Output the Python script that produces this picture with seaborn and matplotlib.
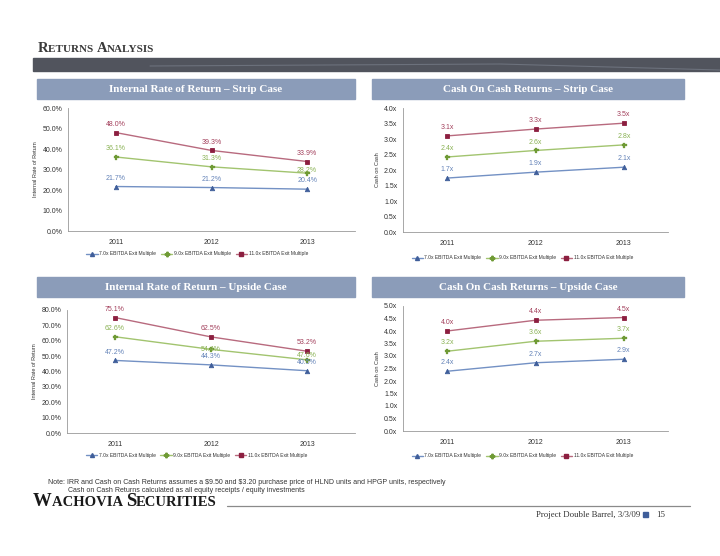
import matplotlib
matplotlib.use("Agg")
import matplotlib.pyplot as plt
import seaborn as sns
import pandas as pd
from matplotlib.offsetbox import TextArea, HPacker, AnnotationBbox
from matplotlib.patches import Rectangle
from matplotlib.lines import Line2D

sns.set_style("white")
plt.rcParams['font.family'] = ['Liberation Sans Narrow', 'Liberation Sans', 'DejaVu Sans']

# ---------------- data ----------------
years = ["2011", "2012", "2013"]
series_names = ["7.0x EBITDA Exit Multiple", "9.0x EBITDA Exit Multiple", "11.0x EBITDA Exit Multiple"]

irr_strip_7 = [21.7, 21.2, 20.4]
irr_strip_9 = [36.1, 31.3, 28.2]
irr_strip_11 = [48.0, 39.3, 33.9]

coc_strip_7 = [1.74, 1.93, 2.09]
coc_strip_9 = [2.42, 2.63, 2.81]
coc_strip_11 = [3.10, 3.32, 3.51]

irr_up_7 = [47.2, 44.3, 40.5]
irr_up_9 = [62.6, 54.4, 47.6]
irr_up_11 = [75.1, 62.5, 53.2]

coc_up_7 = [2.39, 2.73, 2.87]
coc_up_9 = [3.19, 3.59, 3.71]
coc_up_11 = [4.00, 4.43, 4.54]

panel_titles = ["Internal Rate of Return \u2013 Strip Case", "Cash On Cash Returns \u2013 Strip Case",
                "Internal Rate of Return \u2013 Upside Case", "Cash On Cash Returns \u2013 Upside Case"]

# ---------------- styles ----------------
W, H = 720, 556
line_cols = ["#7391C4", "#A2C46F", "#B86A7E"]
mark_cols = ["#3F5E9A", "#6F9A35", "#8C1F40"]
lab_cols = ["#6483B8", "#8AB254", "#A3405C"]
markers = ["^", "P", "s"]
msizes = [3.2, 3.6, 3.4]
TXT = "#333333"

def rect(x0, y0, x1, y1):
    return [x0 / W, 1 - y1 / H, (x1 - x0) / W, (y1 - y0) / H]

fig = plt.figure(figsize=(7.2, 5.56), dpi=100)
fig.patch.set_facecolor("white")

def smallcaps(words, big, small, xy, weight="normal", color="#3a3a3a"):
    parts = []
    for k, w in enumerate(words):
        parts.append(TextArea(w[0], textprops=dict(fontsize=big, family="Liberation Serif", weight=weight, color=color)))
        tail = w[1:].upper() + (" " if k < len(words) - 1 else "")
        parts.append(TextArea(tail, textprops=dict(fontsize=small, family="Liberation Serif", weight=weight, color=color)))
    box = HPacker(children=parts, align="baseline", pad=0, sep=0)
    ab = AnnotationBbox(box, xy, xycoords="figure pixels", box_alignment=(0, 0.5), frameon=False, pad=0)
    fig.add_artist(ab)

smallcaps(["Returns", "Analysis"], 10.5, 8, (38, H - 48), weight="bold")

bg = fig.add_axes([0, 0, 1, 1], zorder=-5)
bg.set_xlim(0, W); bg.set_ylim(H, 0); bg.axis("off")
bg.add_patch(Rectangle((33, 58), W - 33, 13, color="#51545D"))
bg.plot([150, 500, 720], [66, 64, 70], color="#6C717C", lw=0.8)

headers = [(37, 79, 355, 99), (372, 79, 684, 99), (37, 277, 355, 297), (372, 277, 684, 297)]
for (x0, y0, x1, y1), t in zip(headers, panel_titles):
    bg.add_patch(Rectangle((x0, y0), x1 - x0, y1 - y0, color="#8B9CB9"))
    bg.text((x0 + x1) / 2, (y0 + y1) / 2 + 0.5, t, ha="center", va="center", color="white",
            fontsize=8, family="Liberation Serif", weight="bold")

# footer
bg.text(48, 482, "Note: IRR and Cash on Cash Returns assumes a \\$9.50 and \\$3.20 purchase price of HLND units and HPGP units, respectively",
        fontsize=5.0, va="center", color=TXT, family="Liberation Sans")
bg.text(68, 490, "Cash on Cash Returns calculated as all equity receipts / equity investments",
        fontsize=5.0, va="center", color=TXT, family="Liberation Sans")
bg.plot([227, 690], [506, 506], color="#8a8a8a", lw=0.9)
bg.text(536, 515, "Project Double Barrel, 3/3/09", fontsize=6.3, family="Liberation Serif", va="center", color=TXT)
bg.add_patch(Rectangle((643, 512), 5, 5, color="#3F5E9A"))
bg.text(656, 515, "15", fontsize=6.3, family="Liberation Serif", va="center", color=TXT)
smallcaps(["Wachovia", "Securities"], 13.5, 10.5, (33, H - 501), weight="bold", color="#1a1a1a")

panels = [
    dict(r=rect(68, 108, 355, 231), data=[irr_strip_7, irr_strip_9, irr_strip_11], ymax=60, step=10,
         fmt="{:.1f}%", ylabel="Internal Rate of Return", leg_y=254, offs={(1, 2): 2}),
    dict(r=rect(403, 108, 668, 232), data=[coc_strip_7, coc_strip_9, coc_strip_11], ymax=4.0, step=0.5,
         fmt="{:.1f}x", ylabel="Cash on Cash", leg_y=258, offs={}),
    dict(r=rect(67, 310, 355, 433), data=[irr_up_7, irr_up_9, irr_up_11], ymax=80, step=10,
         fmt="{:.1f}%", ylabel="Internal Rate of Return", leg_y=455, offs={(1, 1): 0, (1, 2): 3}),
    dict(r=rect(403, 306, 668, 431), data=[coc_up_7, coc_up_9, coc_up_11], ymax=5.0, step=0.5,
         fmt="{:.1f}x", ylabel="Cash on Cash", leg_y=456, offs={}),
]

pos = list(range(len(years)))
for p in panels:
    ax = fig.add_axes(p["r"])
    for i, vals in enumerate(p["data"]):
        df = pd.DataFrame({"x": pos, "y": vals})
        sns.lineplot(data=df, x="x", y="y", ax=ax, color=line_cols[i], lw=1.0,
                     marker=markers[i], markersize=msizes[i], markerfacecolor=mark_cols[i],
                     markeredgecolor=mark_cols[i], markeredgewidth=0.6 if markers[i] != "P" else 0.2)
        for j, v in enumerate(vals):
            off = p["offs"].get((i, j), 6)
            lbl = p["fmt"].format(round(v + 1e-9, 1))
            ax.annotate(lbl, (j, v), xytext=(0, off), textcoords="offset points",
                        ha="center", va="center", fontsize=5.0, color=lab_cols[i])
    ax.set_xlim(-0.5, 2.5)
    ax.set_ylim(0, p["ymax"])
    n = int(round(p["ymax"] / p["step"]))
    yt = [k * p["step"] for k in range(n + 1)]
    ax.set_yticks(yt)
    ax.set_yticklabels([p["fmt"].format(t) for t in yt], fontsize=5.0, color=TXT)
    ax.set_xticks(pos)
    ax.set_xticklabels(years, fontsize=5.0, color=TXT)
    ax.set_xticks([-0.5, 0.5, 1.5, 2.5], minor=True)
    ax.tick_params(axis="x", which="major", length=0, pad=6)
    ax.tick_params(axis="x", which="minor", length=3, width=0.5, color="#999999", direction="out")
    ax.tick_params(axis="y", length=2.5, width=0.5, color="#999999", direction="out", pad=1.5)
    ax.set_xlabel("")
    ax.set_ylabel(p["ylabel"], fontsize=4.0, color=TXT, labelpad=3)
    for s in ["top", "right"]:
        ax.spines[s].set_visible(False)
    for s in ["left", "bottom"]:
        ax.spines[s].set_color("#999999")
        ax.spines[s].set_linewidth(0.6)
    ax.set_facecolor("none")
    handles = [Line2D([0], [0], color=line_cols[i], lw=1.0, marker=markers[i], markersize=msizes[i] * 0.9,
                      markerfacecolor=mark_cols[i], markeredgecolor=mark_cols[i]) for i in range(3)]
    x0, y0, w, h = p["r"]
    cx = x0 + w * 0.45
    fig.legend(handles, series_names, loc="center", bbox_to_anchor=(cx, 1 - p["leg_y"] / H),
               ncol=3, frameon=False, fontsize=3.6, handlelength=2.3, columnspacing=0.9,
               handletextpad=0.3, labelcolor=TXT)

fig.savefig("out.png", dpi=100, facecolor="white")
